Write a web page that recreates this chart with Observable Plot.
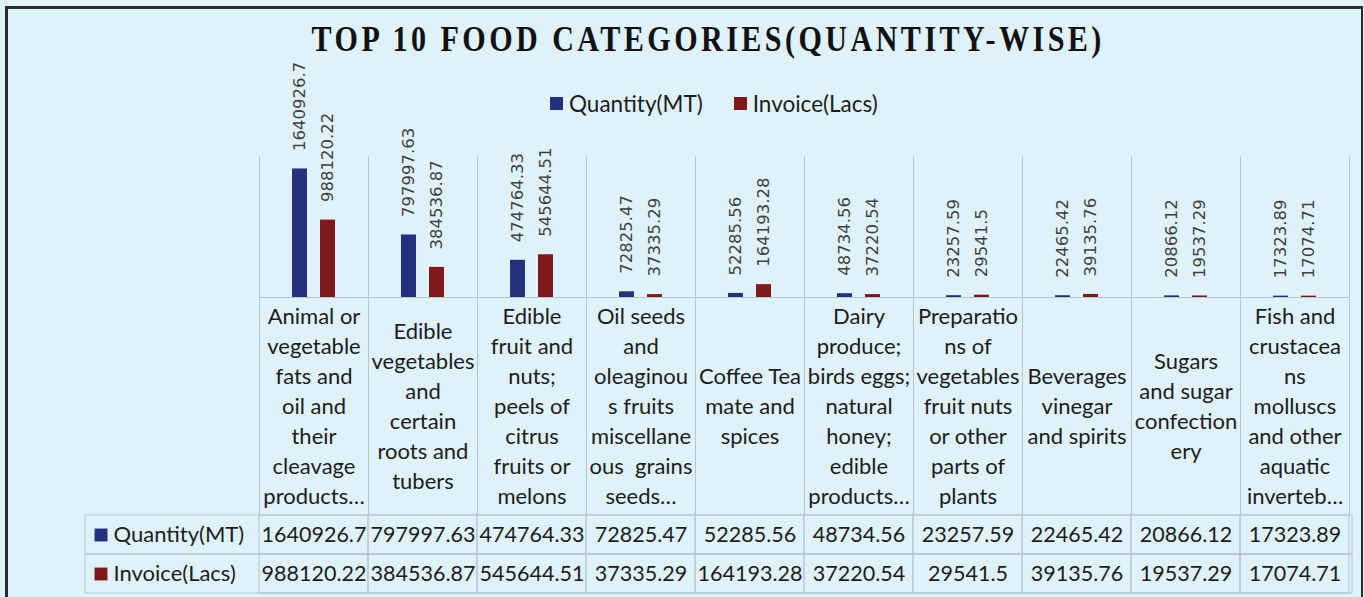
<!DOCTYPE html>
<html>
<head>
<meta charset="utf-8">
<script src="https://cdn.jsdelivr.net/npm/d3@7"></script>
<script src="https://cdn.jsdelivr.net/npm/@observablehq/plot@0.6"></script>
<style>
  html, body { margin: 0; padding: 0; background: #dff2fa; }
  #wrap { position: relative; width: 1364px; height: 597px; overflow: hidden; background: #dff2fa; font-family: Lato, sans-serif; }
  #border { position: absolute; left: 5px; top: 6px; width: 1353px; height: 700px;
            border-left: 3px solid #2b2b2b; border-top: 3px solid #2b2b2b; border-right: 2px solid #2b2b2b; }
  #title { position: absolute; left: 0; top: 22px; width: 1417px; text-align: center; white-space: nowrap; }
  #title span { display: inline-block; transform: scaleX(0.86); transform-origin: center;
           font-family: "Liberation Serif", serif; font-weight: bold; font-size: 35px; line-height: 35px;
           letter-spacing: 4px; color: #111; }
  #legend { position: absolute; left: 550px; top: 90px; height: 26px; display: flex; align-items: center;
            font-family: Lato, sans-serif; font-size: 22.5px; color: #1c1c1c; white-space: nowrap; }
  #legend .item { display: flex; align-items: center; margin-right: 31px; }
  #legend .sw { width: 13px; height: 13px; margin-right: 6px; }
  .plotbox { position: absolute; left: 0; }
</style>
</head>
<body>
<div id="wrap">
  <div id="border"></div>
  <div id="title"><span></span></div>
  <div id="legend"></div>
  <div id="chart" class="plotbox" style="top:120px"></div>
  <div id="table" class="plotbox" style="top:514px"></div>
</div>
<script>
const titleText = "TOP 10 FOOD CATEGORIES(QUANTITY-WISE)";
const series = ["Quantity(MT)", "Invoice(Lacs)"];
const seriesColors = ["#25307f", "#7f1a1c"];
const categories = [
  "Animal or vegetable fats and oil and their cleavage products…",
  "Edible vegetables and certain roots and tubers",
  "Edible fruit and nuts; peels of citrus fruits or melons",
  "Oil seeds and oleaginous fruits miscellaneous grains seeds…",
  "Coffee Tea mate and spices",
  "Dairy produce; birds eggs; natural honey; edible products…",
  "Preparations of vegetables fruit nuts or other parts of plants",
  "Beverages vinegar and spirits",
  "Sugars and sugar confectionery",
  "Fish and crustaceans molluscs and other aquatic inverteb…"
];
const categoryLabels = [
  "Animal or\nvegetable\nfats and\noil and\ntheir\ncleavage\nproducts…",
  "Edible\nvegetables\nand\ncertain\nroots and\ntubers",
  "Edible\nfruit and\nnuts;\npeels of\ncitrus\nfruits or\nmelons",
  "Oil seeds\nand\noleaginou\ns fruits\nmiscellane\nous  grains\nseeds…",
  "Coffee Tea\nmate and\nspices",
  "Dairy\nproduce;\nbirds eggs;\nnatural\nhoney;\nedible\nproducts…",
  "Preparatio\nns of\nvegetables\nfruit nuts\nor other\nparts of\nplants",
  "Beverages\nvinegar\nand spirits",
  "Sugars\nand sugar\nconfection\nery",
  "Fish and\ncrustacea\nns\nmolluscs\nand other\naquatic\ninverteb…"
];
const quantityMT = [1640926.7, 797997.63, 474764.33, 72825.47, 52285.56, 48734.56, 23257.59, 22465.42, 20866.12, 17323.89];
const invoiceLacs = [988120.22, 384536.87, 545644.51, 37335.29, 164193.28, 37220.54, 29541.5, 39135.76, 19537.29, 17074.71];
const yDomain = [0, 1800000];

const bars = [];
categories.forEach((c, i) => {
  bars.push({category: c, series: series[0], value: quantityMT[i]});
  bars.push({category: c, series: series[1], value: invoiceLacs[i]});
});

const gridColor = "#b9c3ca";
const textColor = "#1c1c1c";

document.querySelector("#title span").textContent = titleText;
const legend = document.getElementById("legend");
series.forEach((s, i) => {
  const item = document.createElement("span"); item.className = "item";
  const sw = document.createElement("span"); sw.className = "sw"; sw.style.background = seriesColors[i];
  item.appendChild(sw); item.appendChild(document.createTextNode(s));
  legend.appendChild(item);
});

const chart = Plot.plot({
  width: 1364, height: 394,
  marginTop: 36, marginBottom: 217, marginLeft: 256, marginRight: 12,
  style: {background: "transparent", overflow: "visible"},
  fx: {domain: categories, padding: 0, axis: null},
  x: {domain: series, paddingInner: 0.448, paddingOuter: 1.114, axis: null},
  y: {domain: yDomain, axis: null},
  color: {domain: series, range: seriesColors},
  marks: [
    Plot.frame({anchor: "left", stroke: gridColor, insetBottom: -217}),
    Plot.frame({anchor: "right", stroke: gridColor, insetBottom: -217}),
    Plot.frame({anchor: "bottom", stroke: gridColor}),
    Plot.barY(bars, {fx: "category", x: "series", y: "value", fill: "series"}),
    Plot.text(bars, {fx: "category", x: "series", y: "value", text: d => String(d.value),
      rotate: -90, textAnchor: "start", dy: -18, fontSize: 16.5, fontFamily: "DejaVu Sans", fill: "#404040"}),
    Plot.text(categories, {fx: d => d, text: (d, i) => categoryLabels[i], frameAnchor: "bottom",
      dy: 106.5, lineAnchor: "middle", lineHeight: 1.364, fontSize: 22, fontFamily: "Lato", fill: textColor})
  ]
});
document.getElementById("chart").appendChild(chart);

const table = Plot.plot({
  width: 1364, height: 83,
  marginTop: 0, marginBottom: 4, marginLeft: 256, marginRight: 12,
  style: {background: "transparent", overflow: "visible"},
  x: {domain: categories, padding: 0, axis: null},
  y: {domain: series, padding: 0, axis: null},
  color: {domain: series, range: seriesColors},
  marks: [
    Plot.cell(series, {y: d => d, stroke: gridColor, fill: "none", insetLeft: -171}),
    Plot.cell(bars, {x: "category", y: "series", stroke: gridColor, fill: "none"}),
    Plot.text(bars, {x: "category", y: "series", text: d => String(d.value), fontSize: 21.5, fontFamily: "Lato", fill: textColor}),
    Plot.dot(series, {y: d => d, frameAnchor: "left", dx: -155.5, symbol: "square", r: 7.3, fill: d => d}),
    Plot.text(series, {y: d => d, text: d => d, frameAnchor: "left", dx: -143, textAnchor: "start",
      fontSize: 22, fontFamily: "Lato", fill: textColor})
  ]
});
document.getElementById("table").appendChild(table);
</script>
</body>
</html>
